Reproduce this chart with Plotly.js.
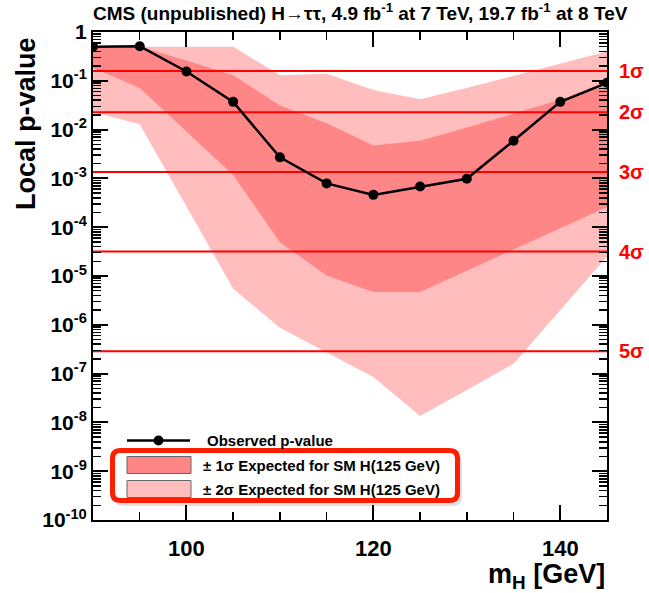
<!DOCTYPE html>
<html>
<head>
<meta charset="utf-8">
<script src="https://cdn.plot.ly/plotly-3.0.1.min.js"></script>
<style>
  html, body { margin: 0; padding: 0; background: #ffffff; }
  #chart { width: 649px; height: 593px; }
</style>
</head>
<body>
<div id="chart"></div>
<script>
// Higgs mass hypotheses (GeV)
const massPoints = [90, 95, 100, 105, 110, 115, 120, 125, 130, 135, 140, 145];

// Observed local p-value
const observedP = [0.50, 0.51, 0.155, 0.037, 2.7e-3, 7.9e-4, 4.6e-4, 6.8e-4, 9.8e-4, 5.9e-3, 0.037, 0.091];

// Expected p-value bands for a SM Higgs boson at 125 GeV
const exp1sUp = [0.50, 0.50, 0.26, 0.13, 0.031, 0.0135, 4.7e-3, 5.9e-3, 0.011, 0.021, 0.041, 0.079];
const exp1sDown = [0.186, 0.071, 9.1e-3, 1.17e-3, 4.9e-5, 1.02e-5, 4.7e-6, 4.7e-6, 1.26e-5, 3.5e-5, 9.5e-5, 2.6e-4];
const exp2sUp = [0.50, 0.50, 0.50, 0.50, 0.13, 0.14, 0.065, 0.042, 0.071, 0.126, 0.22, 0.40];
const exp2sDown = [0.023, 0.0129, 2.6e-4, 5.5e-6, 8.7e-7, 2.75e-7, 8.5e-8, 1.35e-8, 4.6e-8, 1.6e-7, 2.0e-6, 2.5e-5];

// One-sided significance levels
const sigmaLabels = ['1σ', '2σ', '3σ', '4σ', '5σ'];
const sigmaP = [0.1587, 0.02275, 1.35e-3, 3.167e-5, 2.867e-7];

// Axis tick labels
const yTickVals = [1, 1e-1, 1e-2, 1e-3, 1e-4, 1e-5, 1e-6, 1e-7, 1e-8, 1e-9, 1e-10];
const yTickText = ['1', '10<sup>-1</sup>', '10<sup>-2</sup>', '10<sup>-3</sup>', '10<sup>-4</sup>',
  '10<sup>-5</sup>', '10<sup>-6</sup>', '10<sup>-7</sup>', '10<sup>-8</sup>', '10<sup>-9</sup>', '10<sup>-10</sup>'];
const xTickVals = [100, 120, 140];
const xTickText = ['100', '120', '140'];

const COL_DARK = '#fe8686';
const COL_LIGHT = '#ffbdbd';
const FONT = 'Liberation Sans, Arial, Helvetica, sans-serif';

// page geometry of the plotting frame
const M = { l: 93, r: 42, t: 32, b: 73 };
const W = 649, H = 593;
const PW = W - M.l - M.r, PH = H - M.t - M.b;
const px = x => (x - M.l) / PW;
const py = y => (H - M.b - y) / PH;

// minor ticks 2..9 in every decade
const yMinor = [];
for (let e = -10; e < 0; e++) {
  for (let k = 2; k <= 9; k++) yMinor.push(k * Math.pow(10, e));
}

const band = (up, down) => ({
  x: massPoints.concat(massPoints.slice().reverse()),
  y: up.concat(down.slice().reverse())
});

const b2 = band(exp2sUp, exp2sDown);
const b1 = band(exp1sUp, exp1sDown);

const traces = [
  { x: b2.x, y: b2.y, type: 'scatter', mode: 'lines', fill: 'toself',
    fillcolor: COL_LIGHT, line: { width: 0, color: COL_LIGHT }, hoverinfo: 'skip', showlegend: false },
  { x: b1.x, y: b1.y, type: 'scatter', mode: 'lines', fill: 'toself',
    fillcolor: COL_DARK, line: { width: 0, color: COL_DARK }, hoverinfo: 'skip', showlegend: false }
];

sigmaP.forEach(p => {
  traces.push({ x: [massPoints[0], massPoints[massPoints.length - 1]], y: [p, p],
    type: 'scatter', mode: 'lines', line: { color: '#ff0000', width: 2 },
    hoverinfo: 'skip', showlegend: false });
});

traces.push({ x: massPoints, y: observedP, type: 'scatter', mode: 'lines+markers',
  line: { color: '#000000', width: 2.5 }, marker: { color: '#000000', size: 10 },
  showlegend: false });

const annotations = sigmaLabels.map((s, i) => ({
  text: s, xref: 'paper', yref: 'y', x: px(617), y: Math.log10(sigmaP[i]),
  xanchor: 'left', yanchor: 'middle', showarrow: false,
  font: { family: FONT, size: 20, color: '#ff0000', weight: 'bold' }
}));

annotations.push({
  text: 'Local p-value', textangle: -90, xref: 'paper', yref: 'paper',
  x: px(26), y: py(124), xanchor: 'center', yanchor: 'middle', showarrow: false,
  font: { family: FONT, size: 27, color: '#000000', weight: 'bold' }
});
annotations.push({
  text: 'm<sub>H</sub> [GeV]', xref: 'paper', yref: 'paper',
  x: px(607), y: py(576), xanchor: 'right', yanchor: 'middle', showarrow: false,
  font: { family: FONT, size: 27, color: '#000000', weight: 'bold' }
});

// legend entries
const legendFont = { family: FONT, size: 15, color: '#000000', weight: 'bold' };
const legendRows = [
  { text: 'Observed p-value', y: 440.5, x: 205 },
  { text: '± 1σ Expected for SM H(125 GeV)', y: 465, x: 201 },
  { text: '± 2σ Expected for SM H(125 GeV)', y: 489, x: 201 }
];
legendRows.forEach(r => annotations.push({
  text: r.text, xref: 'paper', yref: 'paper', x: px(r.x), y: py(r.y),
  xanchor: 'left', yanchor: 'middle', showarrow: false, font: legendFont
}));

// rounded highlight frame around the expected-band entries
function roundRect(x0, y0, x1, y1, r) {
  const X0 = px(x0), X1 = px(x1), Y0 = py(y0), Y1 = py(y1);
  const rx = r / PW, ry = r / PH;
  return `M ${X0 + rx},${Y0} L ${X1 - rx},${Y0} Q ${X1},${Y0} ${X1},${Y0 - ry} ` +
    `L ${X1},${Y1 + ry} Q ${X1},${Y1} ${X1 - rx},${Y1} L ${X0 + rx},${Y1} ` +
    `Q ${X0},${Y1} ${X0},${Y1 + ry} L ${X0},${Y0 - ry} Q ${X0},${Y0} ${X0 + rx},${Y0} Z`;
}

const shapes = [
  // soft shadow
  { type: 'path', xref: 'paper', yref: 'paper', path: roundRect(114, 453, 462, 506, 9),
    line: { width: 0 }, fillcolor: 'rgba(0,0,0,0.12)', layer: 'above' },
  { type: 'path', xref: 'paper', yref: 'paper', path: roundRect(112.5, 450.5, 457.5, 500.5, 8),
    line: { color: '#ff1f00', width: 5 }, fillcolor: '#ffffff', layer: 'above' },
  // observed sample
  { type: 'line', xref: 'paper', yref: 'paper', x0: px(127), x1: px(190), y0: py(440.5), y1: py(440.5),
    line: { color: '#000000', width: 2.5 }, layer: 'above' },
  { type: 'circle', xref: 'paper', yref: 'paper', x0: px(153.5), x1: px(163.5), y0: py(435.5), y1: py(445.5),
    line: { width: 0 }, fillcolor: '#000000', layer: 'above' },
  // band samples
  { type: 'rect', xref: 'paper', yref: 'paper', x0: px(127), x1: px(191), y0: py(456.5), y1: py(473.5),
    line: { color: '#666666', width: 1 }, fillcolor: COL_DARK, layer: 'above' },
  { type: 'rect', xref: 'paper', yref: 'paper', x0: px(127), x1: px(191), y0: py(480.5), y1: py(497.5),
    line: { color: '#666666', width: 1 }, fillcolor: COL_LIGHT, layer: 'above' }
];

const layout = {
  width: W, height: H,
  margin: { l: M.l, r: M.r, t: M.t, b: M.b, pad: 0 },
  paper_bgcolor: '#ffffff', plot_bgcolor: '#ffffff',
  showlegend: false,
  title: {
    text: 'CMS (unpublished) H→ττ, 4.9 fb<sup>-1</sup> at 7 TeV, 19.7 fb<sup>-1</sup> at 8 TeV',
    xref: 'paper', x: 0, xanchor: 'left', yref: 'container', y: 1 - 13 / H, yanchor: 'middle',
    font: { family: FONT, size: 19, color: '#000000', weight: 'bold' }
  },
  xaxis: {
    range: [90, 145], showgrid: false, zeroline: false,
    showline: true, linecolor: '#000000', linewidth: 2, mirror: 'allticks',
    ticks: 'inside', ticklen: 15, tickwidth: 2, tickcolor: '#000000',
    tickmode: 'array', tickvals: xTickVals, ticktext: xTickText,
    ticklabelstandoff: 8,
    tickfont: { family: FONT, size: 22, color: '#000000', weight: 'bold' },
    minor: { ticks: 'inside', ticklen: 8, tickwidth: 1.5, tickcolor: '#000000',
      tickmode: 'array', tickvals: [95, 105, 110, 115, 125, 130, 135], showgrid: false }
  },
  yaxis: {
    type: 'log', range: [-10, 0], showgrid: false, zeroline: false,
    showline: true, linecolor: '#000000', linewidth: 2, mirror: 'allticks',
    ticks: 'inside', ticklen: 15, tickwidth: 2, tickcolor: '#000000',
    tickmode: 'array', tickvals: yTickVals, ticktext: yTickText,
    tickfont: { family: FONT, size: 21, color: '#000000', weight: 'bold' },
    minor: { ticks: 'inside', ticklen: 8, tickwidth: 1.5, tickcolor: '#000000',
      tickmode: 'array', tickvals: yMinor, showgrid: false }
  },
  annotations: annotations,
  shapes: shapes
};

Plotly.newPlot('chart', traces, layout, { staticPlot: true, displayModeBar: false });
</script>
</body>
</html>
